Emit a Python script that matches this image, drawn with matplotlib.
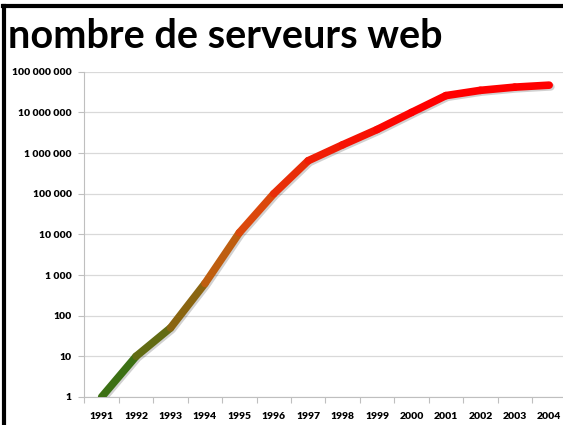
import numpy as np
import matplotlib.pyplot as plt
from matplotlib.collections import LineCollection
from matplotlib.lines import Line2D
from matplotlib.ticker import FixedLocator, FuncFormatter
from matplotlib.transforms import ScaledTranslation

years = [1991, 1992, 1993, 1994, 1995, 1996, 1997, 1998, 1999, 2000, 2001, 2002, 2003, 2004]
servers = [1, 10, 50, 620, 11000, 100000, 650000, 1600000, 3800000, 10000000,
           26000000, 35000000, 42000000, 47000000]

title = "nombre de serveurs web"
font = "Lato"


def fmt(v, pos):
    return "{:,}".format(int(round(v))).replace(",", " ")


def grad(t):
    # green -> orange -> red
    green = np.array([0.15, 0.45, 0.08])
    orange = np.array([0.82, 0.36, 0.06])
    red = np.array([1.0, 0.0, 0.0])
    if t < 0.55:
        return green + (orange - green) * t / 0.55
    return orange + (red - orange) * min((t - 0.55) / 0.45, 1)


fig = plt.figure(figsize=(5.63, 4.25), dpi=100)
ax = fig.add_axes([0.150, 0.066, 0.856, 0.765])

x = np.arange(len(years))
y = np.array(servers, dtype=float)

# soft shadow under the line
shadow = ScaledTranslation(1.2 / 72, -1.2 / 72, fig.dpi_scale_trans)
ax.plot(x, y, color="black", alpha=0.18, linewidth=5.5, solid_capstyle="round",
        solid_joinstyle="round", transform=ax.transData + shadow, zorder=2)

segs = []
cols = []
for i in range(len(x) - 1):
    segs.append([(x[i], y[i]), (x[i + 1], y[i + 1])])
    t = np.log10(np.sqrt(y[i] * y[i + 1])) / 7.0
    cols.append(grad(t))
lc = LineCollection(segs, colors=cols, linewidths=5.5, capstyle="round", joinstyle="round", zorder=3)
ax.add_collection(lc)

ax.set_yscale("log")
ax.set_ylim(1, 1e8)
ax.set_xlim(-0.5, len(years) - 0.5)

ax.yaxis.set_major_locator(FixedLocator([10 ** k for k in range(9)]))
ax.yaxis.set_minor_locator(FixedLocator([]))
ax.yaxis.set_major_formatter(FuncFormatter(fmt))
ax.set_xticks(x)
ax.set_xticklabels([str(a) for a in years])
ax.set_xticks(np.arange(len(years) + 1) - 0.5, minor=True)
ax.tick_params(axis="x", which="major", length=0, pad=11)
ax.tick_params(axis="x", which="minor", length=4, color="#bfbfbf", width=0.8)
ax.tick_params(axis="y", length=4, color="#bfbfbf", width=0.8, pad=5)
for lab in ax.get_xticklabels() + ax.get_yticklabels():
    lab.set_fontfamily(font)
    lab.set_fontweight("heavy")
    lab.set_fontsize(7.5)

ax.grid(axis="y", color="#d9d9d9", linewidth=0.9)
ax.set_axisbelow(True)
for s in ["top", "right"]:
    ax.spines[s].set_visible(False)
ax.spines["left"].set_color("#bfbfbf")
ax.spines["bottom"].set_color("#bfbfbf")
ax.spines["left"].set_linewidth(0.8)
ax.spines["bottom"].set_linewidth(0.8)

# frame lines on left and top
fig.add_artist(Line2D([0.0064, 0.0064], [0.0, 0.985], color="black", linewidth=3, transform=fig.transFigure))
fig.add_artist(Line2D([0.005, 1.0], [0.985, 0.985], color="black", linewidth=3, transform=fig.transFigure))

fig.text(0.014, 0.887, title, fontsize=28.5, fontweight="bold", fontfamily=font, va="baseline")

fig.savefig("out.png", dpi=100)
